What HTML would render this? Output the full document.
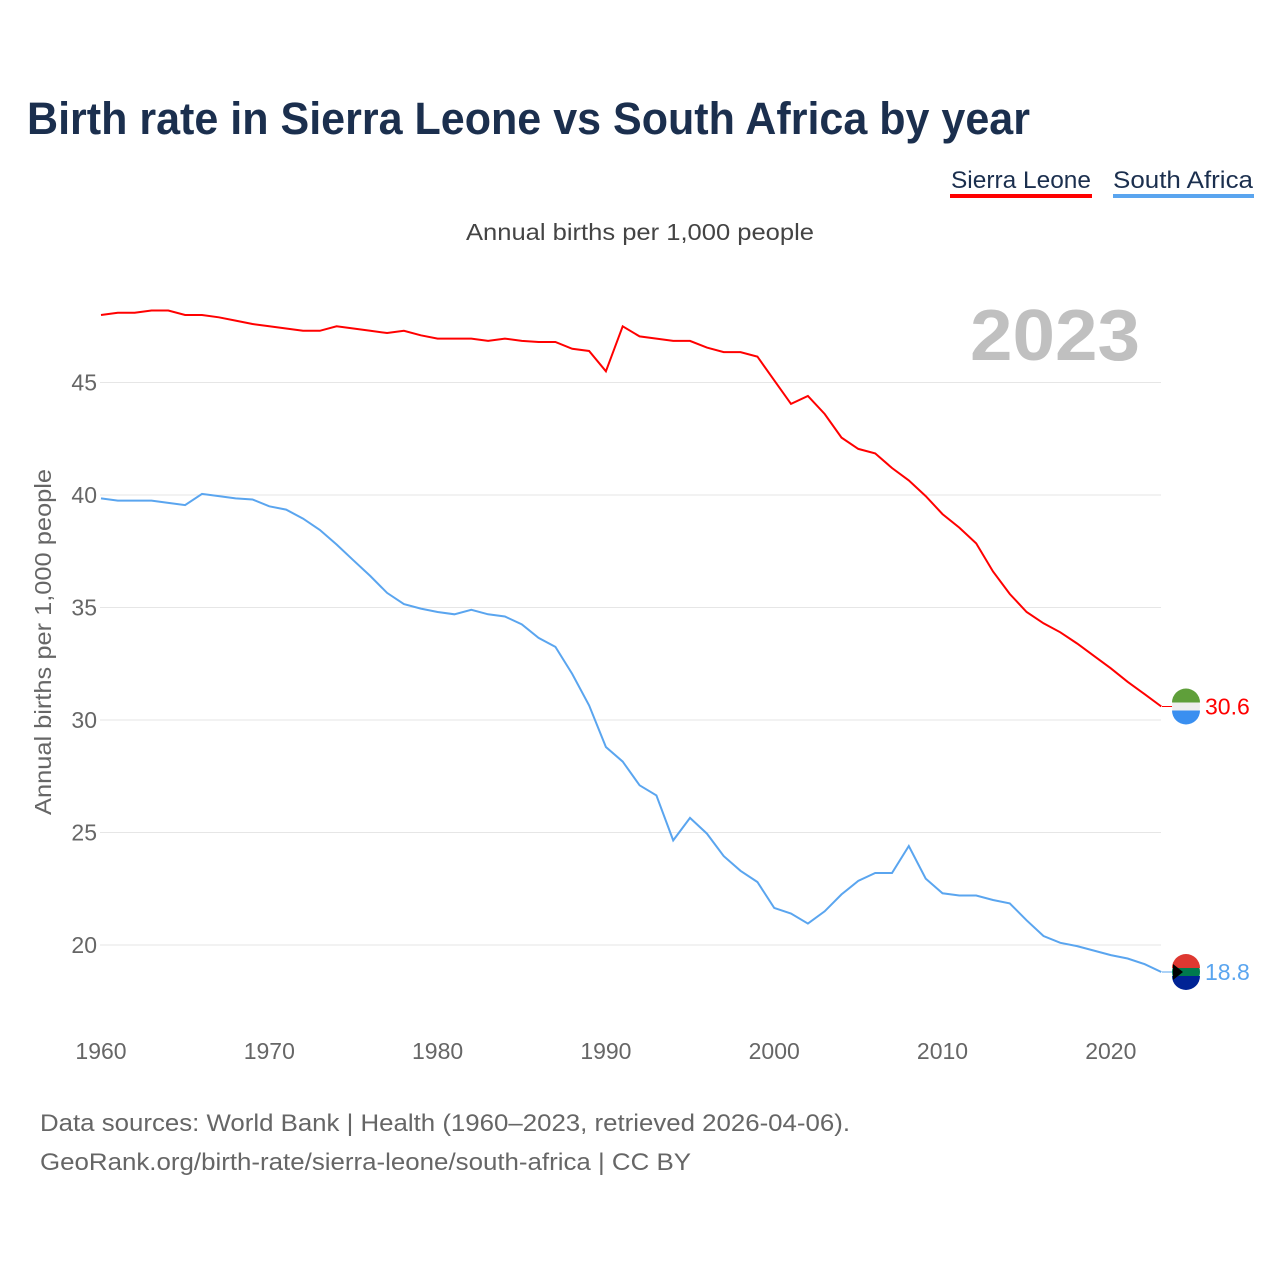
<!DOCTYPE html>
<html><head><meta charset="utf-8"><style>
body{margin:0;background:#fff;font-family:"Liberation Sans",sans-serif}
#wrap{position:relative;width:1280px;height:1280px;overflow:hidden}
</style></head><body>
<div id="wrap">
<svg id="chart" width="1280" height="1280">
<text x="27" y="134" font-size="45" font-weight="bold" fill="#1b2f4e" textLength="1003" lengthAdjust="spacingAndGlyphs">Birth rate in Sierra Leone vs South Africa by year</text>
<g>
<text x="951" y="188" font-size="24" fill="#1b2f4e" textLength="140" lengthAdjust="spacingAndGlyphs">Sierra Leone</text>
<rect x="950" y="194" width="142" height="4" fill="#ff0000"/>
<text x="1113" y="188" font-size="24" fill="#1b2f4e" textLength="140" lengthAdjust="spacingAndGlyphs">South Africa</text>
<rect x="1113" y="194" width="141" height="4" fill="#5aa5ef"/>
</g>
<text x="466" y="240" font-size="23" fill="#444" textLength="348" lengthAdjust="spacingAndGlyphs">Annual births per 1,000 people</text>
<text x="1140" y="360" font-size="72" font-weight="bold" fill="#c0c0c0" text-anchor="end" textLength="170" lengthAdjust="spacingAndGlyphs">2023</text>
<text transform="translate(51,815) rotate(-90)" font-size="23" fill="#666" textLength="346" lengthAdjust="spacingAndGlyphs">Annual births per 1,000 people</text>
<g id="grid"></g><g id="ylabels"></g><g id="xlabels"></g><g id="lines"></g><g id="ends"></g>
<text x="40" y="1131" font-size="24" fill="#666" textLength="810" lengthAdjust="spacingAndGlyphs">Data sources: World Bank | Health (1960–2023, retrieved 2026-04-06).</text>
<text x="40" y="1170" font-size="24" fill="#666" textLength="651" lengthAdjust="spacingAndGlyphs">GeoRank.org/birth-rate/sierra-leone/south-africa | CC BY</text>
</svg>
</div>
<script>
const years=[];for(let y=1960;y<=2023;y++)years.push(y);
const sierraLeone=[48.0,48.1,48.1,48.2,48.2,48.0,48.0,47.9,47.75,47.6,47.5,47.4,47.3,47.3,47.5,47.4,47.3,47.2,47.3,47.1,46.95,46.95,46.95,46.85,46.95,46.85,46.8,46.8,46.5,46.4,45.5,47.5,47.05,46.95,46.85,46.85,46.55,46.35,46.35,46.15,45.1,44.05,44.4,43.6,42.55,42.05,41.85,41.2,40.65,39.95,39.15,38.55,37.85,36.6,35.6,34.8,34.3,33.9,33.4,32.85,32.3,31.7,31.15,30.6];
const southAfrica=[39.85,39.75,39.75,39.75,39.65,39.55,40.05,39.95,39.85,39.8,39.5,39.35,38.95,38.45,37.8,37.1,36.4,35.65,35.15,34.95,34.8,34.7,34.9,34.7,34.6,34.25,33.65,33.25,32.05,30.65,28.8,28.15,27.1,26.65,24.65,25.65,24.95,23.95,23.3,22.8,21.65,21.4,20.95,21.5,22.25,22.85,23.2,23.2,24.4,22.95,22.3,22.2,22.2,22.0,21.85,21.1,20.4,20.1,19.95,19.75,19.55,19.4,19.15,18.8];
const yTicks=[20,25,30,35,40,45];
const xTicks=[1960,1970,1980,1990,2000,2010,2020];
const X=y=>101+(y-1960)*16.83;
const Y=v=>945-(v-20)*22.5;
const NS="http://www.w3.org/2000/svg";
function mk(tag,attrs,parent){const e=document.createElementNS(NS,tag);for(const k in attrs)e.setAttribute(k,attrs[k]);document.getElementById(parent).appendChild(e);return e;}
yTicks.forEach(t=>{
 const l=mk('line',{x1:100,x2:1161,y1:Y(t),y2:Y(t),stroke:'#e6e6e6','stroke-width':1},'grid');
 
 
 const tx=mk('text',{x:97,y:Y(t)+8,'font-size':23,fill:'#666','text-anchor':'end'},'ylabels');
 tx.textContent=t;
 
 
});
xTicks.forEach(t=>{
 const tx=mk('text',{x:X(t),y:1059,'font-size':23,fill:'#666','text-anchor':'middle'},'xlabels');
 tx.textContent=t;
 
 
});
function path(vals){return vals.map((v,i)=>(i?'L':'M')+X(years[i]).toFixed(1)+','+Y(v).toFixed(1)).join('');}
const p1=mk('path',{d:path(sierraLeone),fill:'none',stroke:'#ff0000','stroke-width':2},'lines');


const p2=mk('path',{d:path(southAfrica),fill:'none',stroke:'#5aa5ef','stroke-width':2},'lines');


const slv=sierraLeone[sierraLeone.length-1], sav=southAfrica[southAfrica.length-1];
const fx=1186;
let c=mk('circle',{cx:fx,cy:Y(slv),r:14,fill:'#eeeeee'},'ends');


mk('path',{d:`M${fx-14},${Y(slv)-4} A14,14 0 0 1 ${fx+14},${Y(slv)-4} Z`,fill:'#5f9f3a'},'ends');
mk('path',{d:`M${fx-14},${Y(slv)+4} A14,14 0 0 0 ${fx+14},${Y(slv)+4} Z`,fill:'#3a8ff0'},'ends');
mk('line',{x1:1162,x2:1172,y1:Y(slv),y2:Y(slv),stroke:'#ff0000','stroke-width':1},'ends');
let t1=mk('text',{x:1205,y:Y(slv)+8,'font-size':23,fill:'#ff0000'},'ends');t1.textContent=slv.toFixed(1);


let c2=mk('circle',{cx:fx,cy:Y(sav),r:14,fill:'#007a4d'},'ends');


mk('path',{d:`M${fx-14},${Y(sav)-4} A14,14 0 0 1 ${fx+14},${Y(sav)-4} Z`,fill:'#de3831'},'ends');
mk('path',{d:`M${fx-14},${Y(sav)+4} A14,14 0 0 0 ${fx+14},${Y(sav)+4} Z`,fill:'#002395'},'ends');
mk('path',{d:`M${fx-13},${Y(sav)-8} L${fx-3},${Y(sav)} L${fx-13},${Y(sav)+8} Z`,fill:'#000'},'ends');
mk('line',{x1:1162,x2:1172,y1:Y(sav),y2:Y(sav),stroke:'#5aa5ef','stroke-width':1},'ends');
let t2=mk('text',{x:1205,y:Y(sav)+8,'font-size':23,fill:'#5aa5ef'},'ends');t2.textContent=sav.toFixed(1);


</script>
</body></html>
